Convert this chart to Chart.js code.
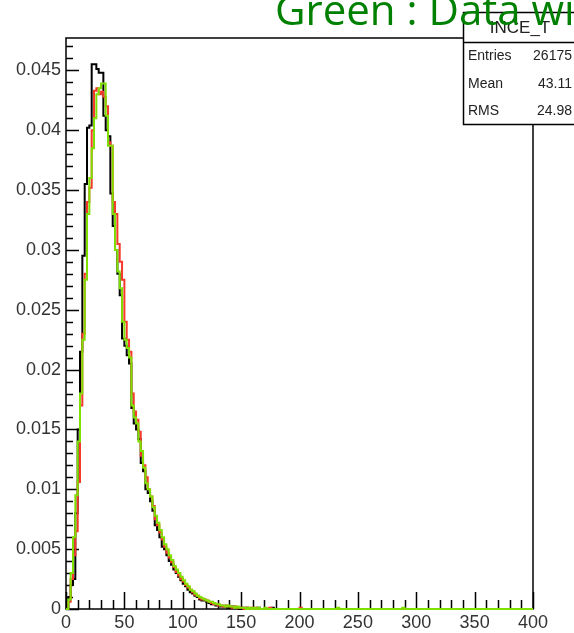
<!DOCTYPE html>
<html>
<head>
<meta charset="utf-8">
<script src="https://cdn.jsdelivr.net/npm/chart.js@4.4.1/dist/chart.umd.min.js"></script>
<style>
  html, body { margin: 0; padding: 0; background: #fff; }
  canvas { display: block; }
</style>
</head>
<body>
<canvas id="histo" width="574" height="633"></canvas>
<script>
'use strict';

// histogram bins: 0..400, width 2 (200 bins)
var binWidth = 2;
var xMin = 0, xMax = 400;
var yMax = 0.0477;
var xTickLabels = [0, 50, 100, 150, 200, 250, 300, 350, 400];
var yTickLabels = [0, 0.005, 0.01, 0.015, 0.02, 0.025, 0.03, 0.035, 0.04, 0.045];

var blackValues = [
	0, 0.0010, 0.0020, 0.0025, 0.0080, 0.0150, 0.0215, 0.0295, 0.0355, 0.0402,
	0.0404, 0.0455, 0.0455, 0.0451, 0.0448, 0.0448, 0.0412, 0.0400, 0.0395, 0.0347,
	0.0320, 0.0300, 0.0280, 0.0262, 0.0226, 0.0220, 0.0212, 0.0205, 0.0168, 0.0155,
	0.0150, 0.0142, 0.0122, 0.0115, 0.0100, 0.0097, 0.0090, 0.0082, 0.0070, 0.0066,
	0.0060, 0.0052, 0.0050, 0.0045, 0.0040, 0.0037, 0.0033, 0.0030, 0.0027, 0.0024,
	0.0021, 0.0019, 0.0016, 0.0014, 0.0013, 0.0011, 0.0010, 0.0008, 0.0007, 0.0007,
	0.0006, 0.0005, 0.0004, 0.0004, 0.0003, 0.0003, 0.0002, 0.0002, 0.0002, 0.0001,
	0.0001, 0.0002, 0.0001, 0.0001, 0, 0.0001, 0, 0.0001, 0, 0,
	0, 0, 0.0001, 0, 0, 0, 0, 0, 0.0001, 0,
	0, 0, 0, 0, 0, 0, 0, 0, 0, 0,
	0, 0, 0, 0, 0, 0, 0, 0, 0, 0,
	0, 0, 0, 0, 0, 0, 0, 0, 0, 0,
	0, 0, 0, 0, 0, 0, 0, 0, 0, 0,
	0, 0, 0, 0, 0, 0, 0, 0, 0, 0,
	0, 0, 0, 0, 0, 0, 0, 0, 0, 0,
	0, 0, 0, 0, 0, 0, 0, 0, 0, 0,
	0, 0, 0, 0, 0, 0, 0, 0, 0, 0,
	0, 0, 0, 0, 0, 0, 0, 0, 0, 0,
	0, 0, 0, 0, 0, 0, 0, 0, 0, 0,
	0, 0, 0, 0, 0, 0, 0, 0, 0, 0
];

var redValues = [
	0, 0.0006, 0.0025, 0.0045, 0.0065, 0.0106, 0.0170, 0.0230, 0.0280, 0.0340,
	0.0352, 0.0400, 0.0433, 0.0435, 0.0430, 0.0432, 0.0428, 0.0420, 0.0390, 0.0387,
	0.0340, 0.0330, 0.0305, 0.0290, 0.0275, 0.0240, 0.0225, 0.0215, 0.0180, 0.0165,
	0.0158, 0.0148, 0.0128, 0.0120, 0.0110, 0.0100, 0.0094, 0.0086, 0.0075, 0.0070,
	0.0064, 0.0058, 0.0052, 0.0047, 0.0043, 0.0039, 0.0035, 0.0031, 0.0028, 0.0025,
	0.0023, 0.0020, 0.0018, 0.0016, 0.0014, 0.0012, 0.0011, 0.0009, 0.0008, 0.0008,
	0.0007, 0.0006, 0.0005, 0.0004, 0.0004, 0.0003, 0.0003, 0.0002, 0.0003, 0.0002,
	0.0002, 0.0001, 0.0002, 0.0001, 0.0001, 0.0001, 0, 0.0001, 0, 0.0001,
	0, 0.0001, 0, 0, 0, 0, 0, 0.0001, 0, 0,
	0, 0, 0, 0, 0, 0, 0, 0, 0, 0,
	0.0001, 0, 0, 0, 0, 0, 0, 0, 0, 0,
	0, 0, 0, 0, 0, 0, 0, 0, 0, 0,
	0, 0, 0, 0, 0, 0, 0, 0, 0, 0,
	0, 0, 0, 0, 0, 0, 0, 0, 0, 0,
	0, 0, 0, 0, 0, 0, 0, 0, 0, 0,
	0, 0, 0, 0, 0, 0, 0, 0, 0, 0,
	0, 0, 0, 0, 0, 0, 0, 0, 0, 0,
	0, 0, 0, 0, 0, 0, 0, 0, 0, 0,
	0, 0, 0, 0, 0, 0, 0, 0, 0, 0,
	0, 0, 0, 0, 0, 0, 0, 0, 0, 0
];

var greenValues = [
	0, 0.0008, 0.0030, 0.0060, 0.0095, 0.0140, 0.0180, 0.0225, 0.0275, 0.0330,
	0.0360, 0.0385, 0.0410, 0.0430, 0.0435, 0.0439, 0.0439, 0.0412, 0.0387, 0.0387,
	0.0330, 0.0300, 0.0282, 0.0268, 0.0240, 0.0225, 0.0218, 0.0210, 0.0170, 0.0160,
	0.0155, 0.0140, 0.0132, 0.0118, 0.0105, 0.0100, 0.0094, 0.0085, 0.0078, 0.0072,
	0.0066, 0.0060, 0.0054, 0.0050, 0.0045, 0.0041, 0.0036, 0.0033, 0.0030, 0.0027,
	0.0024, 0.0021, 0.0019, 0.0016, 0.0015, 0.0013, 0.0011, 0.0010, 0.0009, 0.0008,
	0.0007, 0.0006, 0.0006, 0.0005, 0.0004, 0.0004, 0.0003, 0.0003, 0.0002, 0.0003,
	0.0002, 0.0002, 0.0001, 0.0002, 0.0001, 0.0001, 0.0001, 0, 0.0001, 0,
	0.0001, 0, 0.0001, 0, 0, 0.0001, 0, 0, 0, 0,
	0, 0, 0, 0, 0, 0, 0, 0, 0, 0,
	0, 0, 0, 0, 0, 0, 0, 0, 0, 0,
	0, 0, 0, 0, 0, 0, 0.0001, 0, 0, 0,
	0, 0, 0, 0, 0, 0, 0, 0, 0, 0,
	0, 0, 0, 0, 0, 0, 0, 0, 0, 0,
	0, 0, 0, 0, 0.0001, 0, 0, 0, 0, 0,
	0, 0, 0, 0, 0, 0, 0, 0, 0, 0,
	0, 0, 0, 0, 0, 0, 0, 0, 0, 0,
	0, 0, 0, 0, 0, 0, 0, 0, 0, 0,
	0, 0, 0, 0, 0, 0, 0, 0, 0, 0,
	0, 0, 0, 0, 0, 0, 0, 0, 0, 0
];

var titleText = 'Green : Data with';
var statsName = 'INCE_T';
var statsRows = [['Entries', '26175'], ['Mean', '43.11'], ['RMS', '24.98']];

// bin low edges -> points for a stepped line, closed at the upper edge
function toSteps(values) {
	var pts = [];
	for (var i = 0; i < values.length; i++) {
		pts.push({x: xMin + i * binWidth, y: values[i]});
	}
	pts.push({x: xMin + values.length * binWidth, y: values[values.length - 1]});
	return pts;
}

var rootFrame = {
	id: 'rootFrame',
	beforeDatasetsDraw: function(chart) {
		var ctx = chart.ctx, a = chart.chartArea;
		var xs = chart.scales.x, ys = chart.scales.y;
		ctx.save();
		ctx.strokeStyle = '#000';
		ctx.lineWidth = 1.5;
		ctx.strokeRect(a.left, a.top, a.right - a.left, a.bottom - a.top);
		ctx.beginPath();
		// y ticks, pointing inward
		for (var k = 0; k <= 47; k++) {
			var py = Math.round(ys.getPixelForValue(k * 0.001)) + 0.5;
			var len = (k % 5 === 0) ? 13 : 7;
			ctx.moveTo(a.left, py);
			ctx.lineTo(a.left + len, py);
		}
		// x ticks
		for (var j = 0; j <= 40; j++) {
			var px = Math.round(xs.getPixelForValue(j * 10)) + 0.5;
			var l2 = (j % 5 === 0) ? 17 : 9;
			ctx.moveTo(px, a.bottom);
			ctx.lineTo(px, a.bottom - l2);
		}
		ctx.stroke();
		ctx.restore();
	},
	afterDraw: function(chart) {
		var ctx = chart.ctx;
		ctx.save();
		// stats box
		ctx.fillStyle = '#fff';
		ctx.fillRect(463, 12, 140, 113);
		ctx.strokeStyle = '#000';
		ctx.lineWidth = 1.5;
		ctx.strokeRect(463.5, 12.5, 140, 112);
		ctx.beginPath();
		ctx.moveTo(463, 42.5);
		ctx.lineTo(574, 42.5);
		ctx.stroke();
		ctx.fillStyle = '#222';
		ctx.font = '17px "Liberation Sans"';
		ctx.textAlign = 'center';
		ctx.textBaseline = 'alphabetic';
		ctx.fillText(statsName, 520, 33);
		ctx.font = '14px "Liberation Sans"';
		for (var i = 0; i < statsRows.length; i++) {
			var by = 60 + i * 27.5;
			ctx.textAlign = 'left';
			ctx.fillText(statsRows[i][0], 468, by);
			ctx.textAlign = 'right';
			ctx.fillText(statsRows[i][1], 572, by);
		}
		// title, cut by the page edge like the original
		ctx.fillStyle = '#008000';
		ctx.font = '42px "Open Sans"';
		ctx.textAlign = 'left';
		ctx.fillText(titleText, 275, 25);
		ctx.restore();
	}
};

var tickFont = {family: '"Liberation Sans", Arial, sans-serif', size: 18};

var histoConfig = {
	type: 'line',
	data: {
		datasets: [{
			label: 'black',
			data: toSteps(blackValues),
			borderColor: '#000000',
			order: 3
		}, {
			label: 'red',
			data: toSteps(redValues),
			borderColor: '#f5392a',
			order: 2
		}, {
			label: 'green',
			data: toSteps(greenValues),
			borderColor: '#7fe000',
			order: 1
		}]
	},
	options: {
		responsive: false,
		animation: false,
		events: [],
		layout: {padding: {left: 0, top: 38, right: 41, bottom: 0}},
		elements: {
			line: {borderWidth: 2, stepped: 'before', tension: 0},
			point: {radius: 0}
		},
		datasets: {line: {clip: 4}},
		plugins: {
			legend: {display: false},
			tooltip: {enabled: false},
			title: {display: false}
		},
		scales: {
			x: {
				type: 'linear',
				min: xMin,
				max: xMax,
				grid: {display: false, drawTicks: false, tickLength: 0},
				border: {display: false},
				afterFit: function(scale) { scale.height = 24; },
				afterBuildTicks: function(scale) {
					scale.ticks = xTickLabels.map(function(v) { return {value: v}; });
				},
				ticks: {
					font: tickFont,
					color: '#333',
					padding: 3,
					maxRotation: 0,
					autoSkip: false,
					callback: function(v) { return String(v); }
				}
			},
			y: {
				type: 'linear',
				min: 0,
				max: yMax,
				grid: {display: false, drawTicks: false, tickLength: 0},
				border: {display: false},
				afterFit: function(scale) { scale.width = 66; },
				afterBuildTicks: function(scale) {
					scale.ticks = yTickLabels.map(function(v) { return {value: v}; });
				},
				ticks: {
					font: tickFont,
					color: '#333',
					padding: 5,
					autoSkip: false,
					callback: function(v) { return String(Number(v.toFixed(3))); }
				}
			}
		}
	},
	plugins: [rootFrame]
};

var histoChart = new Chart(document.getElementById('histo').getContext('2d'), histoConfig);
</script>
</body>
</html>
